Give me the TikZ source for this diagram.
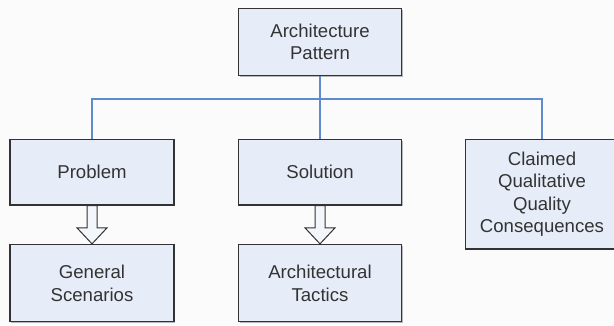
\documentclass[tikz,border=0pt]{standalone}
\usepackage{fontspec}
\setmainfont{Liberation Sans}
\usetikzlibrary{calc,shadows}
\definecolor{bg}{HTML}{FBFBFB}
\definecolor{boxfill}{HTML}{E7EDF8}
\definecolor{boxline}{HTML}{333333}
\definecolor{linkblue}{HTML}{5F8ACD}
\definecolor{txt}{HTML}{333333}

% hollow block arrow from the bottom of one box to the top of another
\newcommand\blockarrow[2]{%
  \draw[hollowarrow] let \p1=(#1.south), \p2=(#2.north) in
    (\x1-5pt,\y1) -- (\x1-5pt,\y2+16pt) -- (\x1-15pt,\y2+16pt) -- (\x1,\y2)
    -- (\x1+15pt,\y2+16pt) -- (\x1+5pt,\y2+16pt) -- (\x1+5pt,\y1) -- cycle;}

\begin{document}
\begin{tikzpicture}[x=1pt,y=-1pt,
  box/.style={draw=boxline,line width=1.3pt,fill=boxfill,text=txt,
    font=\fontsize{18.6}{22.5}\selectfont,align=center,inner sep=0pt,
    drop shadow={shadow xshift=1.2pt,shadow yshift=-1.2pt,opacity=0.45,fill=black!60}},
  link/.style={draw=linkblue,line width=2pt},
  hollowarrow/.style={draw=boxline,line width=1pt,fill=boxfill!50!white,line join=miter}]
\clip (0,0) rectangle (614,325);
\fill[bg] (0,0) rectangle (614,325);

\node[box,minimum width=163.4pt,minimum height=67.4pt] (pattern) at (320,42) {Architecture\\Pattern};
\node[box,minimum width=164pt,minimum height=65.7pt] (problem) at (92,172.2) {Problem};
\node[box,minimum width=163.4pt,minimum height=65.7pt] (solution) at (320,172.2) {Solution};
\node[box,minimum width=170pt,minimum height=109.7pt,anchor=west] (claimed) at (465,194.2) {};
\node[text=txt,font=\fontsize{18.6}{22.5}\selectfont,align=center,inner sep=0pt] (claimedtext) at (542,194.2) {Claimed\\Qualitative\\Quality\\Consequences};
\node[box,minimum width=164pt,minimum height=77.2pt] (general) at (92,283.1) {General\\Scenarios};
\node[box,minimum width=163.4pt,minimum height=77.2pt] (tactics) at (320,283.1) {Architectural\\Tactics};

% tree connectors
\coordinate (bus) at (320,99);
\coordinate (claimedtop) at (claimedtext |- claimed.north);
\draw[link] (pattern.south) -- (solution.north);
\draw[link] (problem.north) |- (bus) -| (claimedtop);

% refinement arrows
\blockarrow{problem}{general}
\blockarrow{solution}{tactics}
\end{tikzpicture}
\end{document}
